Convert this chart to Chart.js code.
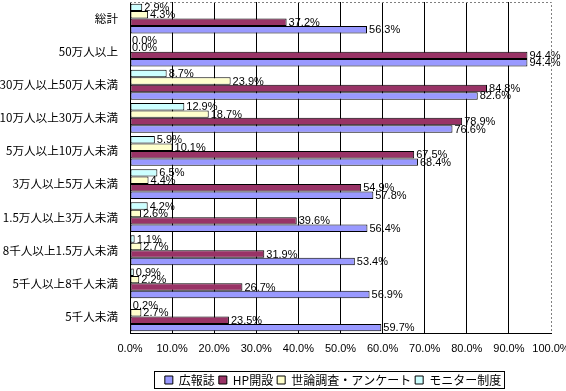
<!DOCTYPE html>
<html>
<head>
<meta charset="utf-8">
<script src="https://cdn.jsdelivr.net/npm/chart.js"></script>
<style>
  body { margin: 0; background: #fff; }
</style>
</head>
<body>
<canvas id="grafico" width="566" height="391"></canvas>
<script>
const categorias = ["総計", "50万人以上", "30万人以上50万人未満", "10万人以上30万人未満", "5万人以上10万人未満",
  "3万人以上5万人未満", "1.5万人以上3万人未満", "8千人以上1.5万人未満", "5千人以上8千人未満", "5千人未満"];
const kohoshi = [56.3, 94.4, 82.6, 76.6, 68.4, 57.8, 56.4, 53.4, 56.9, 59.7];
const hpKaisetsu = [37.2, 94.4, 84.8, 78.9, 67.5, 54.9, 39.6, 31.9, 26.7, 23.5];
const yoron = [4.3, 0.0, 23.9, 18.7, 10.1, 4.4, 2.6, 2.7, 2.2, 2.7];
const monitor = [2.9, 0.0, 8.7, 12.9, 5.9, 6.5, 4.2, 1.1, 0.9, 0.2];
const xMin = 0, xMax = 100, xPaso = 10;

const fuenteJa = "'Noto Sans CJK JP', sans-serif";
const fuenteNum = "'Liberation Sans', Arial, sans-serif";

// etiquetas de valor al final de cada barra
const etiquetas = {
  id: "etiquetas",
  afterDatasetsDraw(chart) {
    const ctx = chart.ctx;
    ctx.save();
    ctx.font = "11px " + fuenteNum;
    ctx.fillStyle = "#000";
    ctx.textBaseline = "middle";
    chart.data.datasets.forEach((ds, i) => {
      chart.getDatasetMeta(i).data.forEach((bar, j) => {
        ctx.fillText(ds.data[j].toFixed(1) + "%", bar.x + 2, bar.y + 0.5);
      });
    });
    ctx.restore();
  }
};

// mover la leyenda y dibujar bordes
const marcos = {
  id: "marcos",
  afterLayout(chart) {
    const lg = chart.legend;
    const dx = 333 - (lg.left + lg.right) / 2;
    lg.left += dx;
    lg.right += dx;
    lg.top = 370;
    lg.bottom = lg.top + lg.height;
  },
  afterDraw(chart) {
    const ctx = chart.ctx;
    const a = chart.chartArea;
    ctx.save();
    ctx.strokeStyle = "#808080";
    ctx.lineWidth = 1;
    ctx.setLineDash([2, 2]);
    ctx.beginPath();
    ctx.moveTo(a.left, a.top + 0.5);
    ctx.lineTo(a.right + 0.5, a.top + 0.5);
    ctx.lineTo(a.right + 0.5, a.bottom);
    ctx.stroke();
    ctx.setLineDash([]);
    const cajas = chart.legend.legendHitBoxes;
    if (cajas.length) {
      const izq = Math.round(cajas[0].left) - 11;
      const ultima = cajas[cajas.length - 1];
      const der = Math.round(ultima.left + ultima.width) + 3;
      ctx.strokeStyle = "#000";
      ctx.strokeRect(izq + 0.5, 371.5, der - izq, 17);
    }
    ctx.restore();
  }
};

const canvas = document.getElementById("grafico");

const grafica = {
  type: "bar",
  data: {
    labels: categorias,
    datasets: [
      { label: "モニター制度", data: monitor, backgroundColor: "#CCFFFF" },
      { label: "世論調査・アンケート", data: yoron, backgroundColor: "#FFFFCC" },
      { label: "HP開設", data: hpKaisetsu, backgroundColor: "#993366" },
      { label: "広報誌", data: kohoshi, backgroundColor: "#9999FF" }
    ]
  },
  options: {
    indexAxis: "y",
    responsive: false,
    animation: false,
    devicePixelRatio: 1,
    layout: { padding: { left: 0, right: 15, top: 2, bottom: 0 } },
    datasets: {
      bar: {
        borderColor: "#000",
        borderWidth: 1,
        borderSkipped: false,
        categoryPercentage: 0.9,
        barPercentage: 1.0
      }
    },
    scales: {
      x: {
        min: xMin,
        max: xMax,
        ticks: {
          stepSize: xPaso,
          autoSkip: false,
          maxRotation: 0,
          padding: 9,
          color: "#000",
          font: { family: fuenteNum, size: 11 },
          callback: v => Number(v).toFixed(1) + "%"
        },
        grid: {
          drawTicks: false,
          color: c => (c.tick && c.tick.value === xMax) ? "rgba(0,0,0,0)" : "#000"
        },
        border: { color: "#000" },
        afterFit: s => { s.height = 32; s.paddingLeft = 0; s.paddingRight = 0; }
      },
      y: {
        ticks: {
          autoSkip: false,
          padding: 12,
          color: "#000",
          font: { family: fuenteJa, size: 11.6 }
        },
        grid: { display: false, drawTicks: false },
        border: { color: "#000" },
        afterFit: s => { s.width = 130; s.paddingTop = 0; s.paddingBottom = 0; }
      }
    },
    plugins: {
      legend: {
        position: "bottom",
        reverse: true,
        labels: {
          boxWidth: 8,
          boxHeight: 8,
          padding: 4,
          color: "#000",
          font: { family: fuenteJa, size: 12 }
        }
      },
      tooltip: { enabled: false }
    }
  },
  plugins: [etiquetas, marcos]
};

new Chart(canvas, grafica);
</script>
</body>
</html>
